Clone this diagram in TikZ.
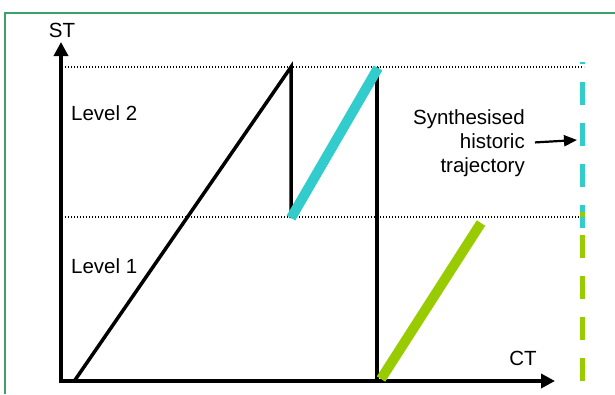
\documentclass[tikz,border=0pt]{standalone}
\usepackage{fontspec}
\setmainfont{Liberation Sans}
\usetikzlibrary{arrows.meta, positioning}
\definecolor{FrameGreen}{HTML}{3CA06A}
\definecolor{TrajCyan}{HTML}{33CCCC}
\definecolor{TrajGreen}{HTML}{99CC00}

\begin{document}
\begin{tikzpicture}[
        x=1pt, y=-1pt,
        every node/.style={font=\fontsize{20.5}{24}\selectfont, inner sep=0pt},
        axis/.style={line width=4pt, -{Triangle[length=14pt, width=14pt]}},
        trace/.style={line width=3.5pt},
        level/.style={line width=1.3pt, dash pattern=on 1.3pt off 1.7pt},
        fat/.style={line width=10pt},
        hist/.style={line width=5pt, dash pattern=on 23pt off 18pt},
        ptr/.style={line width=2.2pt, -{Triangle[length=13pt, width=11pt]}}
    ]
        \useasboundingbox (0,0) rectangle (615,394);
        \clip (0,0) rectangle (615,394);
        \draw[FrameGreen, line width=2pt] (5,394) -- (5,13) -- (615,13);

        % key points
        \coordinate (o) at (61,381);
        \coordinate (ytop) at (61,42);
        \coordinate (xend) at (555,381);
        \coordinate (start) at (75,380);
        \coordinate (peak1) at (291,67);
        \coordinate (drop1) at (291,218);
        \coordinate (peak2) at (378,68);
        \coordinate (reset) at (377,67);
        \coordinate (low) at (377,381);
        \coordinate (gbot) at (381,379);
        \coordinate (gtop) at (481,223);
        \coordinate (hist) at (577,140);

        % levels
        \draw[level] (65,67) -- (584,67);
        \draw[level] (65,217) -- (584,217);

        % axes
        \draw[axis] (61,383) -- (ytop);
        \draw[axis] (59,381) -- (xend);
        \node (st) at (62,30) {ST};
        \node (ct) at (523,358) {CT};
        \node[right] (lv2) at (71,113) {Level 2};
        \node[right] (lv1) at (71,266) {Level 1};

        % trajectory
        \draw[trace] (start) -- (peak1) -- (drop1);
        \draw[trace] (reset) -- (low);
        \draw[fat, TrajCyan] (drop1) -- (peak2);
        \draw[fat, TrajGreen] (gbot) -- (gtop);

        % synthesised history
        \draw[hist, TrajCyan, dash phase=21pt] (582,62) -- (582,228);
        \draw[hist, TrajGreen, dash phase=18pt] (582,212) -- (582,381);
        \node[align=right, left] (synth) at (525,143) {Synthesised\\historic\\trajectory};
        \draw[ptr, shorten <=10pt] (synth.east) -- (hist);
    \end{tikzpicture}
\end{document}
